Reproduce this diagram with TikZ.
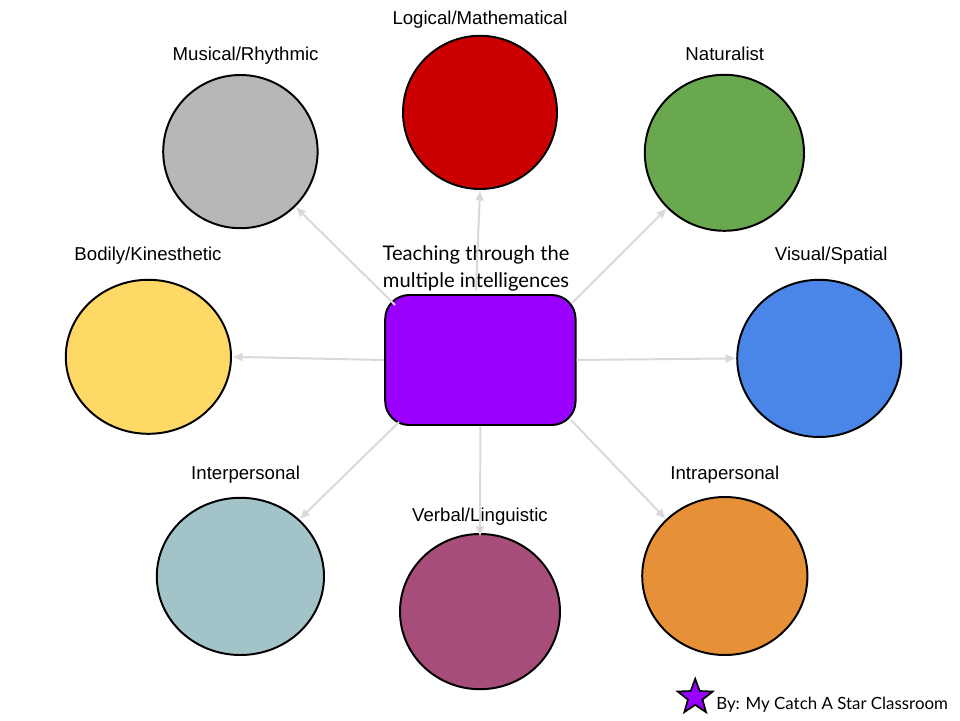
\documentclass[tikz,border=0pt]{standalone}
\usepackage{fontspec}
\setmainfont{Liberation Sans}
\newfontfamily\handfont{Lato}
\usetikzlibrary{shapes.geometric,arrows.meta}
\tikzset{
    blob/.style={ellipse,draw=black,line width=1.4pt,inner sep=0pt},
    label/.style={inner sep=0pt,font=\fontsize{13.25}{15}\selectfont},
    handtext/.style={inner sep=0pt,font=\handfont\fontsize{14.35}{16}\selectfont},
    spoke/.style={draw=spokegray,line width=1.4pt,-{Latex[length=7.5pt,width=6.5pt]}}
}
\definecolor{spokegray}{HTML}{D9D9D9}
\definecolor{hubpurple}{HTML}{9900FF}
\definecolor{logicred}{HTML}{CC0000}
\definecolor{musicgray}{HTML}{B7B7B7}
\definecolor{naturegreen}{HTML}{6AA84F}
\definecolor{visualblue}{HTML}{4A86E8}
\definecolor{bodyyellow}{HTML}{FFD966}
\definecolor{interteal}{HTML}{A2C4C9}
\definecolor{verbalplum}{HTML}{A64D79}
\definecolor{intraorange}{HTML}{E69138}
\begin{document}
\begin{tikzpicture}
    \useasboundingbox (0,0) rectangle (24,18);
    \node[blob,fill=logicred,minimum width=3.85cm,minimum height=3.83cm] at (12,15.19) (logic) {};
    \node[blob,fill=musicgray,minimum width=3.86cm,minimum height=3.83cm] at (6.01,14.21) (music) {};
    \node[blob,fill=naturegreen,minimum width=3.98cm,minimum height=3.9cm] at (18.11,14.18) (nature) {};
    \node[blob,fill=visualblue,minimum width=4.1cm,minimum height=3.93cm] at (20.48,9.04) (visual) {};
    \node[blob,fill=bodyyellow,minimum width=4.13cm,minimum height=3.85cm] at (3.71,9.08) (body) {};
    \node[blob,fill=interteal,minimum width=4.18cm,minimum height=3.93cm] at (6.01,3.59) (inter) {};
    \node[blob,fill=verbalplum,minimum width=4cm,minimum height=3.88cm] at (12,2.71) (verbal) {};
    \node[blob,fill=intraorange,minimum width=4.13cm,minimum height=3.95cm] at (18.12,3.6) (intra) {};
    \node[draw=black,fill=hubpurple,line width=1.4pt,rounded corners=0.6cm,minimum width=4.76cm,minimum height=3.25cm] at (12.01,9) (hub) {};
    % labels
    \node[label] at (12,17.5) (logiclabel) {Logical/Mathematical};
    \node[label] at (6.14,16.62) (musiclabel) {Musical/Rhythmic};
    \node[label] at (18.12,16.66) (naturelabel) {Naturalist};
    \node[label] at (20.78,11.62) (visuallabel) {Visual/Spatial};
    \node[label] at (3.7,11.62) (bodylabel) {Bodily/Kinesthetic};
    \node[label] at (6.14,6.13) (interlabel) {Interpersonal};
    \node[label] at (12,5.08) (verballabel) {Verbal/Linguistic};
    \node[label] at (18.12,6.13) (intralabel) {Intrapersonal};
    \node[handtext] at (11.9,11.62) (hubline) {Teaching through the};
    \node[handtext] at (11.9,10.95) (hubnext) {multiple intelligences};
    % spoke starts
    \coordinate (hubup) at (11.9,10.75);
    \coordinate (hubnw) at (9.875,10.375);
    \coordinate (hubne) at (14.3,10.425);
    \coordinate (hubsw) at (9.975,7.45);
    \coordinate (hubse) at (14.275,7.5);
    \draw[spoke] (hubup) to (logic.south);
    \draw[spoke] (hubnw) to (music.-45);
    \draw[spoke] (hubne) to (nature.224);
    \draw[spoke] (hub.east) to (visual.west);
    \draw[spoke] (hub.west) to (body.east);
    \draw[spoke] (hubsw) to (inter.44);
    \draw[spoke,shorten >=-0.1cm] (hub.south) to (verbal.north);
    \draw[spoke] (hubse) to (intra.136);
    % credit
    \node[star,star points=5,star point ratio=2.4,draw=black,fill=hubpurple,line width=1.2pt,minimum size=0.92cm,inner sep=0pt] at (17.38,0.57) (badge) {};
    \node[handtext,font=\handfont\fontsize{12}{14}\selectfont,anchor=west] at (17.9,0.38) (credit) {By: My Catch A Star Classroom};
\end{tikzpicture}
\end{document}
